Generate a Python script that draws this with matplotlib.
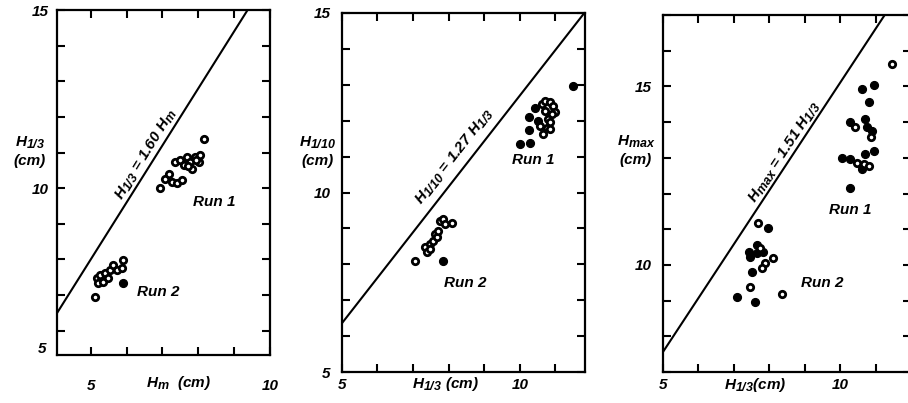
import matplotlib
matplotlib.use("Agg")
import matplotlib.pyplot as plt
import matplotlib._mathtext as _mt
import numpy as np

_mt.SHRINK_FACTOR = 0.82

plt.rcParams['font.family'] = ['Liberation Sans', 'DejaVu Sans']
plt.rcParams['mathtext.fontset'] = 'custom'
plt.rcParams['mathtext.it'] = 'Liberation Sans:bold:italic'
plt.rcParams['mathtext.rm'] = 'Liberation Sans:bold:italic'
plt.rcParams['mathtext.bf'] = 'Liberation Sans:bold:italic'

# ---------------- data ----------------
# Panel 1: H1/3 vs Hm
p1_run2_open_x = [5.12, 5.17, 5.26, 5.21, 5.40, 5.35, 5.54, 5.49, 5.63, 5.73, 5.87, 5.91]
p1_run2_open_y = [6.96, 7.47, 7.56, 7.33, 7.61, 7.38, 7.70, 7.47, 7.84, 7.70, 7.75, 7.98]
p1_run2_fill_x = [5.89]
p1_run2_fill_y = [7.33]
p1_run1_open_x = [8.15, 6.94, 7.08, 7.17, 7.26, 7.40, 7.54, 7.35, 7.49, 7.59, 7.68, 7.77, 7.82, 7.91, 8.01, 8.05, 7.72, 7.95]
p1_run1_open_y = [11.39, 10.01, 10.27, 10.41, 10.18, 10.16, 10.22, 10.74, 10.78, 10.64, 10.88, 10.74, 10.55, 10.88, 10.74, 10.92, 10.62, 10.80]

# Panel 2: H1/10 vs H1/3
p2_run2_open_x = [7.06, 7.34, 7.39, 7.48, 7.48, 7.57, 7.62, 7.67, 7.71, 7.76, 7.85, 7.90, 8.09]
p2_run2_open_y = [8.10, 8.47, 8.33, 8.56, 8.42, 8.65, 8.84, 8.75, 8.93, 9.21, 9.26, 9.12, 9.16]
p2_run2_fill_x = [7.85]
p2_run2_fill_y = [8.10]
p2_run1_fill_x = [11.48, 10.01, 10.29, 10.26, 10.26, 10.43, 10.51]
p2_run1_fill_y = [12.97, 11.35, 11.37, 11.74, 12.09, 12.34, 12.00]
p2_run1_open_x = [10.62, 10.71, 10.85, 10.94, 10.99, 10.90, 10.80, 10.76, 10.66, 10.85, 10.71, 10.57, 10.85]
p2_run1_open_y = [12.46, 12.55, 12.51, 12.42, 12.23, 12.18, 12.04, 11.81, 11.62, 11.76, 12.28, 11.86, 11.95]

# Panel 3: Hmax vs H1/3
p3_run2_open_x = [7.70, 8.12, 7.89, 8.36, 7.47, 7.80, 7.75]
p3_run2_open_y = [11.17, 10.18, 10.04, 9.19, 9.38, 9.90, 10.46]
p3_run2_fill_x = [7.98, 7.42, 7.47, 7.66, 7.66, 7.84, 7.51, 7.09, 7.61]
p3_run2_fill_y = [11.03, 10.37, 10.23, 10.56, 10.32, 10.37, 9.80, 9.10, 8.95]
p3_run1_open_x = [11.47, 10.43, 10.48, 10.67, 10.81, 10.86]
p3_run1_open_y = [15.64, 13.85, 12.86, 12.82, 12.77, 13.57]
p3_run1_fill_x = [10.62, 10.95, 10.81, 10.71, 10.29, 10.76, 10.90, 10.06, 10.29, 10.62, 10.71, 10.95, 10.29]
p3_run1_fill_y = [14.94, 15.03, 14.56, 14.09, 13.99, 13.85, 13.76, 13.00, 12.96, 12.68, 13.10, 13.19, 12.16]

coef = [1.60, 1.27, 1.51]
line_labels = [r"$H_{1/3}$ = 1.60 $H_m$", r"$H_{1/10}$ = 1.27 $H_{1/3}$", r"$H_{max}$ = 1.51 $H_{1/3}$"]
xlims = [(4.06, 10.0), (5.0, 11.83), (5.0, 12.0)]
ylims = [(5.32, 15.0), (5.0, 15.0), (7.0, 17.0)]
xlabel_vals = [[5, 10], [5, 10], [5, 10]]
ylabel_vals = [[10, 15], [5, 10, 15], [10, 15]]
ylabels = ["$H_{1/3}$\n(cm)", "$H_{1/10}$\n(cm)", "$H_{max}$\n(cm)"]
xlabels = ["$H_m$  (cm)", "$H_{1/3}$ (cm)", "$H_{1/3}$(cm)"]

W, H = 908, 403
fig = plt.figure(figsize=(W / 100, H / 100), dpi=100)

def box(l, r, t, b):
    return [l / W, 1 - b / H, (r - l) / W, (b - t) / H]

def fp(x, y):
    return x / W, 1 - y / H

rects = [box(57, 270, 10, 355), box(341.7, 585, 13, 372), box(662.7, 911, 15, 372)]
fs = 11
tstyle = dict(fontsize=fs, fontweight='bold', fontstyle='italic')

def open_pts(ax, x, y):
    ax.plot(x, y, 'o', ms=4.6, mfc='white', mec='black', mew=2.0, ls='none', clip_on=False, zorder=3)

def fill_pts(ax, x, y):
    ax.plot(x, y, 'o', ms=5.6, mfc='black', mec='black', mew=1.0, ls='none', clip_on=False, zorder=3)

axes = []
for i in range(3):
    ax = fig.add_axes(rects[i])
    ax.set_xlim(*xlims[i])
    ax.set_ylim(*ylims[i])
    for s in ax.spines.values():
        s.set_linewidth(1.6)
    xt = np.arange(np.ceil(xlims[i][0]), np.floor(xlims[i][1]) + 1)
    yt = np.arange(np.ceil(ylims[i][0]), np.floor(ylims[i][1]) + 1)
    ax.set_xticks(xt)
    ax.set_yticks(yt)
    ax.set_xticklabels([str(int(v)) if int(v) in xlabel_vals[i] else '' for v in xt], **tstyle)
    ax.set_yticklabels([str(int(v)) if int(v) in ylabel_vals[i] else '' for v in yt], **tstyle)
    ax.tick_params(direction='in', length=6, width=1.5, top=True, right=True)
    axes.append(ax)
    xx = np.array(xlims[i])
    ax.plot(xx, coef[i] * xx, color='black', lw=1.5, zorder=2)

axes[0].tick_params(axis='x', pad=17)
axes[0].tick_params(axis='y', pad=6)
axes[1].tick_params(axis='x', pad=4)
axes[1].tick_params(axis='y', pad=8)
axes[2].tick_params(axis='x', pad=4)
axes[2].tick_params(axis='y', pad=8)

ax1, ax2, ax3 = axes
open_pts(ax1, p1_run2_open_x, p1_run2_open_y)
fill_pts(ax1, p1_run2_fill_x, p1_run2_fill_y)
open_pts(ax1, p1_run1_open_x, p1_run1_open_y)

open_pts(ax2, p2_run2_open_x, p2_run2_open_y)
fill_pts(ax2, p2_run2_fill_x, p2_run2_fill_y)
fill_pts(ax2, p2_run1_fill_x, p2_run1_fill_y)
open_pts(ax2, p2_run1_open_x, p2_run1_open_y)

fill_pts(ax3, p3_run2_fill_x, p3_run2_fill_y)
open_pts(ax3, p3_run2_open_x, p3_run2_open_y)
fill_pts(ax3, p3_run1_fill_x, p3_run1_fill_y)
open_pts(ax3, p3_run1_open_x, p3_run1_open_y)

# corner label "5" on panel 1 y axis
fig.text(*fp(46, 349), "5", ha='right', va='center', **tstyle)

# axis labels
fig.text(*fp(30, 151), ylabels[0], ha='center', va='center', linespacing=1.3, **tstyle)
fig.text(*fp(318, 151), ylabels[1], ha='center', va='center', linespacing=1.3, **tstyle)
fig.text(*fp(636, 150), ylabels[2], ha='center', va='center', linespacing=1.3, **tstyle)
fig.text(*fp(178, 383), xlabels[0], ha='center', va='center', **tstyle)
fig.text(*fp(445, 384), xlabels[1], ha='center', va='center', **tstyle)
fig.text(*fp(755, 385), xlabels[2], ha='center', va='center', **tstyle)

# line annotations
fig.text(*fp(146, 155), line_labels[0], ha='center', va='center', rotation=58.5, rotation_mode='anchor', **tstyle)
fig.text(*fp(455, 157), line_labels[1], ha='center', va='center', rotation=52, rotation_mode='anchor', **tstyle)
fig.text(*fp(785, 152), line_labels[2], ha='center', va='center', rotation=56.5, rotation_mode='anchor', **tstyle)

# run labels
for (x, y, s) in [(214, 202, "Run 1"), (158, 292, "Run 2"),
                  (533, 160, "Run 1"), (465, 283, "Run 2"),
                  (850, 210, "Run 1"), (822, 283, "Run 2")]:
    fig.text(*fp(x, y), s, ha='center', va='center', **tstyle)

fig.savefig("out.png", dpi=100)
